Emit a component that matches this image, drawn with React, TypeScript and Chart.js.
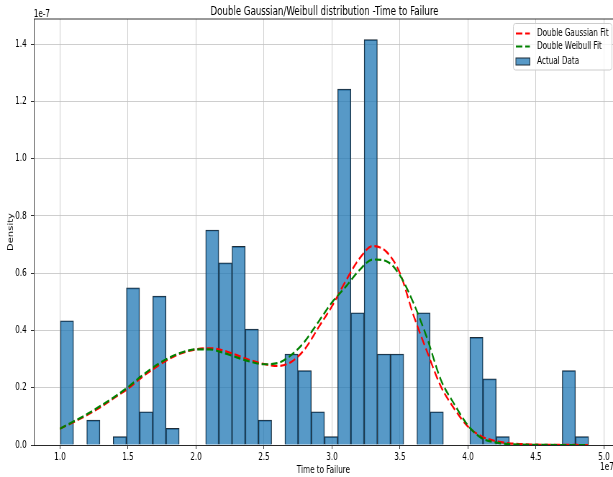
import React, { useEffect, useRef } from "react";
import { Chart, registerables } from "chart.js";

Chart.register(...registerables);

// ---- data (x in units of 1e7, density in units of 1e-7) ----
const binStart = 1.003;
const binWidth = 0.0971;
const densities = [
  0.434, 0, 0.087, 0, 0.029, 0.549, 0.116, 0.52, 0.058, 0,
  0, 0.751, 0.636, 0.694, 0.405, 0.087, 0, 0.318, 0.26, 0.116,
  0.029, 1.243, 0.462, 1.416, 0.318, 0.318, 0, 0.462, 0.116, 0,
  0, 0.376, 0.231, 0.029, 0, 0, 0, 0, 0.26, 0.029,
];

const fitX = [
  1.0, 1.1, 1.2, 1.3, 1.4, 1.5, 1.6, 1.7, 1.8, 1.9,
  2.0, 2.1, 2.2, 2.3, 2.4, 2.5, 2.6, 2.7, 2.8, 2.9,
  3.0, 3.1, 3.2, 3.3, 3.4, 3.5, 3.6, 3.7, 3.8, 3.9,
  4.0, 4.1, 4.2, 4.3, 4.4, 4.5, 4.6, 4.7, 4.8, 4.887,
];
const gaussianFit = [
  0.057, 0.08, 0.105, 0.133, 0.165, 0.197, 0.236, 0.27, 0.3, 0.322,
  0.334, 0.338, 0.33, 0.314, 0.296, 0.283, 0.276, 0.29, 0.335, 0.41,
  0.485, 0.572, 0.65, 0.695, 0.675, 0.6, 0.452, 0.325, 0.205, 0.126,
  0.064, 0.03, 0.014, 0.006, 0.003, 0.001, 0.0005, 0.0002, 0.0001, 0,
];
const weibullFit = [
  0.057, 0.082, 0.108, 0.137, 0.168, 0.202, 0.241, 0.276, 0.304, 0.324,
  0.334, 0.334, 0.322, 0.306, 0.291, 0.282, 0.286, 0.314, 0.362, 0.43,
  0.498, 0.552, 0.61, 0.648, 0.642, 0.592, 0.495, 0.372, 0.228, 0.142,
  0.068, 0.024, 0.009, 0.003, 0.001, 0.0003, 0.0001, 0, 0, 0,
];

const xTicks = [1.0, 1.5, 2.0, 2.5, 3.0, 3.5, 4.0, 4.5, 5.0];
const yTicks = [0, 0.2, 0.4, 0.6, 0.8, 1.0, 1.2, 1.4];

const TITLE = "Double Gaussian/Weibull distribution -Time to Failure";
const X_LABEL = "Time to Failure";
const Y_LABEL = "Density";
const X_OFFSET = "1e7";
const Y_OFFSET = "1e-7";
const LEGEND = ["Double Gaussian Fit", "Double Weibull Fit", "Actual Data"];

const RED = "#ff0000";
const GREEN = "#008000";
const BAR_FILL = "rgba(31,119,180,0.75)";
const BAR_EDGE = "#1e2c38";
const GRID = "#c2c2c2";
const FONT = "'DejaVu Sans', sans-serif";

const W = 852;
const H = 477;
const SX = 613 / W;

const decor = {
  id: "decor",
  afterDraw(chart: any) {
    const ctx = chart.ctx;
    const ca = chart.chartArea;
    ctx.save();
    // top spine
    ctx.strokeStyle = "#000";
    ctx.lineWidth = 0.8;
    ctx.beginPath();
    ctx.moveTo(ca.left, ca.top);
    ctx.lineTo(W, ca.top);
    ctx.stroke();

    ctx.fillStyle = "#000";
    // title
    ctx.font = `12px ${FONT}`;
    ctx.textAlign = "center";
    ctx.textBaseline = "alphabetic";
    ctx.fillText(TITLE, 451, 14.5);
    // offset texts
    ctx.font = `10px ${FONT}`;
    ctx.textAlign = "left";
    ctx.fillText(Y_OFFSET, ca.left, 16.5);
    ctx.textAlign = "right";
    ctx.textBaseline = "middle";
    ctx.fillText(X_OFFSET, 853, 467);

    // legend
    const lx = 713.5, ly = 23.5, lw = 137, lh = 46.5, r = 3;
    ctx.beginPath();
    ctx.moveTo(lx + r, ly);
    ctx.lineTo(lx + lw - r, ly);
    ctx.quadraticCurveTo(lx + lw, ly, lx + lw, ly + r);
    ctx.lineTo(lx + lw, ly + lh - r);
    ctx.quadraticCurveTo(lx + lw, ly + lh, lx + lw - r, ly + lh);
    ctx.lineTo(lx + r, ly + lh);
    ctx.quadraticCurveTo(lx, ly + lh, lx, ly + lh - r);
    ctx.lineTo(lx, ly + r);
    ctx.quadraticCurveTo(lx, ly, lx + r, ly);
    ctx.closePath();
    ctx.fillStyle = "rgba(255,255,255,0.8)";
    ctx.fill();
    ctx.strokeStyle = "#cccccc";
    ctx.lineWidth = 1;
    ctx.stroke();

    const hx = 717, hw = 19.5;
    const rows = [33.5, 46.5, 61.5];
    [RED, GREEN].forEach((c, i) => {
      ctx.strokeStyle = c;
      ctx.lineWidth = 2.2;
      ctx.setLineDash([9, 4]);
      ctx.beginPath();
      ctx.moveTo(hx, rows[i]);
      ctx.lineTo(hx + hw, rows[i]);
      ctx.stroke();
    });
    ctx.setLineDash([]);
    ctx.fillStyle = BAR_FILL;
    ctx.fillRect(hx, rows[2] - 3.5, hw, 7);
    ctx.strokeStyle = BAR_EDGE;
    ctx.lineWidth = 1;
    ctx.strokeRect(hx, rows[2] - 3.5, hw, 7);

    ctx.fillStyle = "#000";
    ctx.font = `10px ${FONT}`;
    ctx.textAlign = "left";
    ctx.textBaseline = "middle";
    LEGEND.forEach((t, i) => ctx.fillText(t, 746.5, rows[i]));
    ctx.restore();
  },
};

export default function App() {
  const ref = useRef<HTMLCanvasElement | null>(null);

  useEffect(() => {
    if (!ref.current) return;
    const lineCommon = {
      type: "line" as const,
      borderWidth: 2.2,
      borderDash: [9, 4],
      pointRadius: 0,
      fill: false,
      cubicInterpolationMode: "monotone" as const,
    };
    const chart = new Chart(ref.current, {
      type: "bar",
      data: {
        datasets: [
          {
            ...lineCommon,
            label: LEGEND[0],
            data: fitX.map((x, i) => ({ x, y: gaussianFit[i] })),
            borderColor: RED,
            order: 1,
          } as any,
          {
            ...lineCommon,
            label: LEGEND[1],
            data: fitX.map((x, i) => ({ x, y: weibullFit[i] })),
            borderColor: GREEN,
            order: 0,
          } as any,
          {
            type: "bar",
            label: LEGEND[2],
            data: densities.map((y, i) => ({ x: binStart + binWidth * (i + 0.5), y })),
            backgroundColor: BAR_FILL,
            borderColor: BAR_EDGE,
            borderWidth: 1,
            barPercentage: 1,
            categoryPercentage: 1,
            order: 2,
          } as any,
        ],
      },
      options: {
        responsive: false,
        maintainAspectRatio: false,
        animation: false,
        devicePixelRatio: 1,
        layout: { padding: { top: 19, left: 0, right: 0, bottom: 0 } },
        plugins: { legend: { display: false }, tooltip: { enabled: false } },
        scales: {
          x: {
            type: "linear",
            min: 0.808,
            max: 5.066,
            offset: false,
            grid: {
              offset: false,
              color: GRID,
              lineWidth: 0.8,
              tickColor: "#000",
              tickLength: 4,
            },
            border: { display: true, color: "#000", width: 0.8 },
            ticks: {
              font: { family: FONT, size: 10 },
              color: "#000",
              padding: 2,
              autoSkip: false,
              maxRotation: 0,
              callback: (v: any) => Number(v).toFixed(1),
            },
            afterBuildTicks: (s: any) => {
              s.ticks = xTicks.map((v) => ({ value: v }));
            },
            afterFit: (s: any) => {
              s.height = 32;
            },
            title: {
              display: true,
              text: X_LABEL,
              font: { family: FONT, size: 10 },
              color: "#000",
              padding: { top: 0, bottom: 1 },
            },
          },
          y: {
            type: "linear",
            min: 0,
            max: 1.488,
            grid: {
              color: GRID,
              lineWidth: 0.8,
              tickColor: "#000",
              tickLength: 4,
            },
            border: { display: true, color: "#000", width: 0.8 },
            ticks: {
              font: { family: FONT, size: 10 },
              color: "#000",
              padding: 6,
              callback: (v: any) => Number(v).toFixed(1),
            },
            afterBuildTicks: (s: any) => {
              s.ticks = yTicks.map((v) => ({ value: v }));
            },
            afterFit: (s: any) => {
              s.width = 47;
            },
            title: {
              display: true,
              text: Y_LABEL,
              font: { family: FONT, size: 10 },
              color: "#000",
              padding: { top: 9, bottom: 0 },
            },
          },
        },
      } as any,
      plugins: [decor],
    });
    return () => chart.destroy();
  }, []);

  return (
    <div
      style={{
        position: "fixed",
        left: 0,
        top: 0,
        width: 613,
        height: 477,
        overflow: "hidden",
        background: "#fff",
      }}
    >
      <div style={{ width: W, height: H, transform: `scaleX(${SX})`, transformOrigin: "0 0" }}>
        <canvas ref={ref} width={W} height={H} style={{ display: "block" }} />
      </div>
    </div>
  );
}
